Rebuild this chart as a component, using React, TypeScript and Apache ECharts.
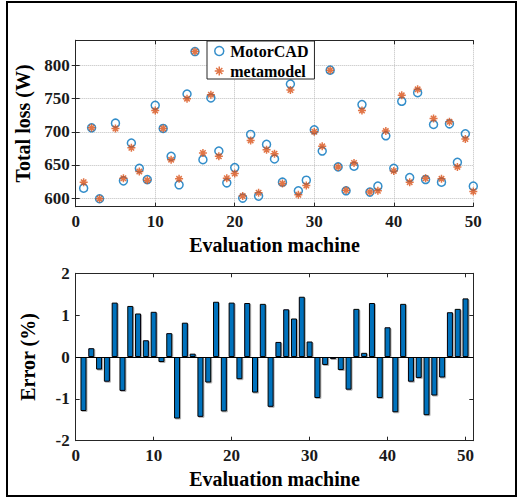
import React, { useEffect, useRef } from "react";
import * as echarts from "echarts";

const machineIds = [1, 2, 3, 4, 5, 6, 7, 8, 9, 10, 11, 12, 13, 14, 15, 16, 17, 18, 19, 20, 21, 22, 23, 24, 25, 26, 27, 28, 29, 30, 31, 32, 33, 34, 35, 36, 37, 38, 39, 40, 41, 42, 43, 44, 45, 46, 47, 48, 49, 50];

const motorCADLoss = [615, 706, 599, null, 713, 626, 683, 645, 628, 740, 705, 663, 620, 757, 821, 658, 751, 671, 623, 646, 600, 696, 603, 681, 659, 624, 772, 611, 627, 703, 671, 793, 647, 611, 648, 741, 609, 618, 694, 645, 746, 631, 759, 628, 711, 624, 712, 654, 697, 618];

const metamodelLoss = [624, 706, 599, null, 705, 630, 676, 640, 627, 732, 705, 658, 629, 750, 821, 668, 756, 663, 630, 637, 603, 687, 608, 673, 667, 622, 763, 605, 619, 700, 678, 793, 647, 612, 653, 732, 609, 611, 701, 641, 755, 624, 764, 630, 720, 629, 715, 647, 689, 610];

const errorPercent = [-1.29, 0.21, -0.30, -0.59, 1.30, -0.81, 1.22, 1.04, 0.40, 1.08, -0.12, 0.57, -1.47, 0.82, 0.08, -1.43, -0.61, 1.32, -1.30, 1.30, -0.53, 1.29, -0.85, 1.27, -1.19, 0.36, 1.14, 0.92, 1.44, 0.37, -0.98, -0.19, -0.05, -0.31, -0.78, 1.15, 0.10, 1.29, -0.98, 0.71, -1.32, 1.27, -0.59, -0.50, -1.39, -0.92, -0.49, 1.07, 1.15, 1.40];

const lossTicks = [600, 650, 700, 750, 800];

const FONT = "'Liberation Serif', 'Times New Roman', serif";
const AXIS_COLOR = "#262626";
const STAR = "path://M5,0L5,10M0,5L10,5M1.6,1.6L8.4,8.4M1.6,8.4L8.4,1.6";

function xAxisDef(gridIndex: number, position: string, main: boolean, max: number, grid: boolean, name?: string) {
  return {
    type: "value",
    gridIndex,
    position,
    min: 0,
    max,
    interval: 10,
    name: name || "",
    nameLocation: "middle",
    nameGap: 28,
    nameTextStyle: { fontFamily: FONT, fontWeight: "bold", fontSize: 20, color: "#000" },
    axisLine: { show: true, onZero: false, lineStyle: { color: AXIS_COLOR, width: 1 } },
    axisTick: { show: true, inside: true, length: 4, lineStyle: { color: AXIS_COLOR, width: 1 } },
    axisLabel: { show: main, fontFamily: FONT, fontWeight: "bold", fontSize: 17, color: "#1a1a1a", margin: 6 },
    splitLine: { show: grid, lineStyle: { color: "#bdbdbd", type: "dotted", width: 1 } },
  };
}

export default function App() {
  const ref = useRef<HTMLDivElement>(null);

  useEffect(() => {
    document.body.style.margin = "0";
    if (!ref.current) return;
    const chart = echarts.init(ref.current, null, { renderer: "svg" });

    const motorData = machineIds.map((id, k) => [id, motorCADLoss[k] == null ? "-" : motorCADLoss[k]]);
    const metaData = machineIds.map((id, k) => [id, metamodelLoss[k] == null ? "-" : metamodelLoss[k]]);
    const errData = machineIds.map((id, k) => [id, errorPercent[k]]);

    const yLabel = { fontFamily: FONT, fontWeight: "bold", fontSize: 17, color: "#1a1a1a", margin: 6 };
    const yName = { fontFamily: FONT, fontWeight: "bold", fontSize: 20, color: "#000" };
    const lineS = { color: AXIS_COLOR, width: 1 };

    const option: any = {
      animation: false,
      backgroundColor: "#fff",
      grid: [
        { left: 75.7, top: 40.3, width: 397.6, height: 166.4 },
        { left: 75.7, top: 273.3, width: 397.6, height: 167.4 },
      ],
      xAxis: [
        xAxisDef(0, "bottom", true, 50, true, "Evaluation machine"),
        xAxisDef(0, "top", false, 50, false),
        xAxisDef(1, "bottom", true, 51, false, "Evaluation machine"),
        xAxisDef(1, "top", false, 51, false),
      ],
      yAxis: [
        {
          type: "value", gridIndex: 0, position: "left", min: 587, max: 838,
          name: "Total loss (W)", nameLocation: "middle", nameGap: 38, nameTextStyle: yName,
          axisLine: { show: true, lineStyle: lineS },
          axisTick: { show: true, inside: true, length: 4, lineStyle: lineS, customValues: lossTicks },
          axisLabel: { ...yLabel, customValues: lossTicks },
          splitLine: { show: true, lineStyle: { color: "#bdbdbd", type: "dotted", width: 1 } },
        },
        {
          type: "value", gridIndex: 0, position: "right", min: 587, max: 838,
          axisLine: { show: true, lineStyle: lineS },
          axisTick: { show: true, inside: true, length: 4, lineStyle: lineS, customValues: lossTicks },
          axisLabel: { show: false, customValues: lossTicks },
          splitLine: { show: false },
        },
        {
          type: "value", gridIndex: 1, position: "left", min: -2, max: 2, interval: 1,
          name: "Error (%)", nameLocation: "middle", nameGap: 38, nameTextStyle: yName,
          axisLine: { show: true, onZero: false, lineStyle: lineS },
          axisTick: { show: true, inside: true, length: 4, lineStyle: lineS },
          axisLabel: yLabel,
          splitLine: { show: false },
        },
        {
          type: "value", gridIndex: 1, position: "right", min: -2, max: 2, interval: 1,
          axisLine: { show: true, onZero: false, lineStyle: lineS },
          axisTick: { show: true, inside: true, length: 4, lineStyle: lineS },
          axisLabel: { show: false },
          splitLine: { show: false },
        },
      ],
      legend: {
        orient: "vertical",
        left: 207,
        top: 41,
        padding: [2, 6, 0, 7],
        itemGap: 4,
        itemWidth: 12,
        itemHeight: 9,
        backgroundColor: "#fff",
        borderColor: AXIS_COLOR,
        borderWidth: 1,
        itemStyle: { borderWidth: 1.5 },
        textStyle: { fontFamily: FONT, fontWeight: "bold", fontSize: 16, color: "#000" },
        data: ["MotorCAD", "metamodel"],
      },
      series: [
        {
          name: "MotorCAD",
          type: "scatter",
          xAxisIndex: 0,
          yAxisIndex: 0,
          symbol: "circle",
          symbolSize: 8,
          symbolKeepAspect: true,
          itemStyle: { color: "transparent", borderColor: "#0072BD", borderWidth: 1.5 },
          data: motorData,
          z: 3,
        },
        {
          name: "metamodel",
          type: "scatter",
          xAxisIndex: 0,
          yAxisIndex: 0,
          symbol: STAR,
          symbolSize: 8,
          symbolKeepAspect: true,
          itemStyle: { color: "transparent", borderColor: "#D95319", borderWidth: 1.5 },
          data: metaData,
          z: 4,
        },
        {
          name: "Error",
          type: "bar",
          xAxisIndex: 2,
          yAxisIndex: 2,
          barWidth: 6,
          itemStyle: {
            color: "#0072BD",
            borderColor: "#000",
            borderWidth: 1,
            shadowColor: "rgba(0,0,0,0.3)",
            shadowOffsetX: 1,
            shadowOffsetY: 1,
            shadowBlur: 1,
          },
          data: errData,
          markLine: {
            silent: true,
            symbol: "none",
            label: { show: false },
            lineStyle: { color: "#000", width: 1, type: "solid" },
            data: [{ yAxis: 0 }],
          },
        },
      ],
      graphic: [
        {
          type: "rect",
          silent: true,
          shape: { x: 7, y: 2, width: 509, height: 494 },
          style: { fill: "none", stroke: "#000", lineWidth: 2 },
        },
      ],
    };

    chart.setOption(option);
    return () => chart.dispose();
  }, []);

  return <div ref={ref} style={{ width: 518, height: 499 }} />;
}
